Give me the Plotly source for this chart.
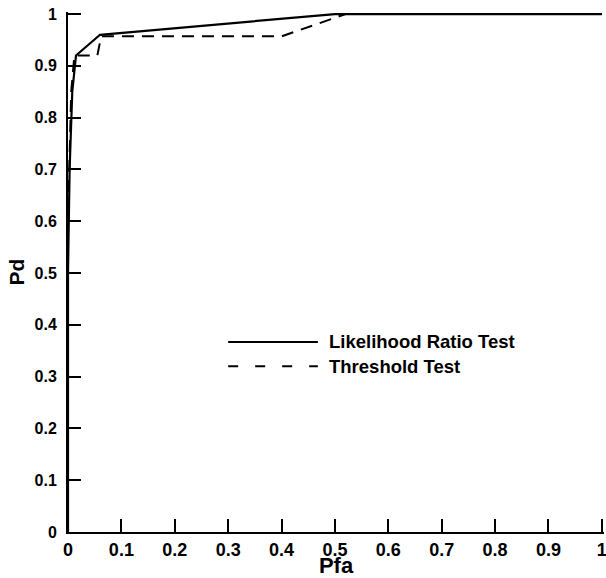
import plotly.graph_objects as go

# Data
lrt_pfa = [0.0, 0.0, 0.003, 0.008, 0.015, 0.06, 0.5, 1.0]
lrt_pd = [0.0, 0.5, 0.7, 0.85, 0.92, 0.96, 1.0, 1.0]

thr_pfa = [0.0, 0.0, 0.006, 0.012, 0.055, 0.062, 0.4, 0.52, 1.0]
thr_pd = [0.0, 0.6, 0.85, 0.92, 0.92, 0.957, 0.957, 1.0, 1.0]

series_names = ["Likelihood Ratio Test", "Threshold Test"]
x_ticks = [0, 0.1, 0.2, 0.3, 0.4, 0.5, 0.6, 0.7, 0.8, 0.9, 1]
x_labels = ["<b>%s</b>" % s for s in ["0", "0.1", "0.2", "0.3", "0.4", "0.5", "0.6", "0.7", "0.8", "0.9", "1"]]
y_ticks = x_ticks
y_labels = x_labels

FONT = "Liberation Sans"
DASH = "12px,8px"

fig = go.Figure()
fig.add_trace(go.Scatter(x=lrt_pfa, y=lrt_pd, mode="lines", name=series_names[0],
                         line=dict(color="black", width=2.2), showlegend=False))
fig.add_trace(go.Scatter(x=thr_pfa, y=thr_pd, mode="lines", name=series_names[1],
                         line=dict(color="black", width=2, dash=DASH), showlegend=False))

# manual legend (long line samples like the reference)
leg_x0, leg_x1, leg_tx = 0.30, 0.468, 0.485
leg_y = [0.367, 0.320]
fig.add_shape(type="line", xref="x", yref="y", x0=leg_x0, x1=leg_x1, y0=leg_y[0], y1=leg_y[0],
              line=dict(color="black", width=2))
fig.add_shape(type="line", xref="x", yref="y", x0=leg_x0, x1=leg_x1, y0=leg_y[1], y1=leg_y[1],
              line=dict(color="black", width=2, dash="10px,17px"))
for name, yy in zip(series_names, leg_y):
    fig.add_annotation(x=leg_tx, y=yy, xref="x", yref="y", text="<b>%s</b>" % name, showarrow=False,
                       xanchor="left", yanchor="middle",
                       font=dict(family=FONT, size=18.5, color="black"))

axis_common = dict(showgrid=False, zeroline=False, showline=True, linecolor="black",
                   linewidth=2, ticks="inside", ticklen=13, tickwidth=2, tickcolor="black",
                   ticklabeloverflow="allow", automargin=False)

fig.update_xaxes(range=[0, 1.004], tickvals=x_ticks, ticktext=x_labels,
                 tickfont=dict(family=FONT, size=18, color="black"),
                 title=dict(text="<b>Pfa</b>", font=dict(family=FONT, size=22, color="black"),
                            standoff=0), **axis_common)
fig.update_yaxes(range=[0, 1.004], tickvals=y_ticks, ticktext=y_labels,
                 tickfont=dict(family=FONT, size=16, color="black"), ticklabelstandoff=6,
                 title=dict(text="<b>Pd</b>", font=dict(family=FONT, size=21, color="black"),
                            standoff=4), **axis_common)

fig.update_layout(width=606, height=578, plot_bgcolor="white", paper_bgcolor="white",
                  margin=dict(l=68, r=2, t=12, b=46), showlegend=False)

fig.write_html("out.html")
